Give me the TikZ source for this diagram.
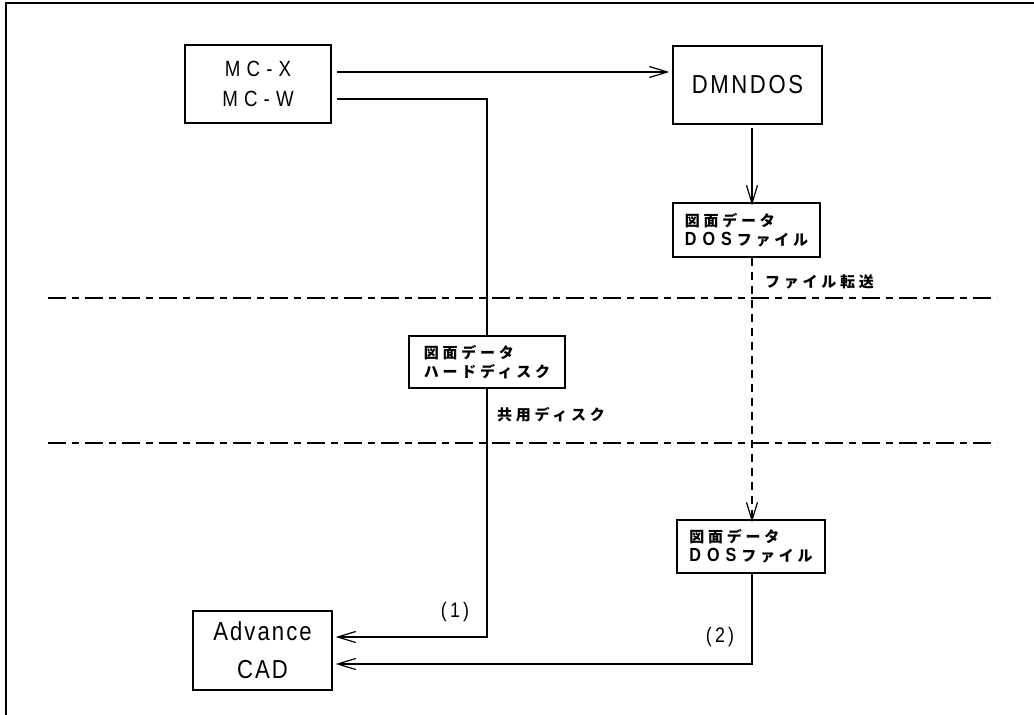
\documentclass[tikz,border=0pt]{standalone}
\usepackage{fontspec}
\setmainfont{Liberation Sans}
\newfontfamily\jpfont[LetterSpace=25]{Noto Sans CJK JP}
\newfontfamily\cadfont[FakeStretch=0.85]{Liberation Sans}
\usetikzlibrary{arrows.meta}
\newcommand\dosword{{\cadfont\fontsize{19}{19}\selectfont D\hspace{6pt}O\hspace{6pt}S}\hspace{5pt}}
\begin{document}
\begin{tikzpicture}[x=1pt,y=-1pt,
    box/.style={draw,line width=1.3pt,fill=white,inner sep=0pt},
    arr/.style={line width=1.2pt,-{Straight Barb[length=18pt,width=11pt,line width=1.2pt]}},
    wire/.style={line width=1.2pt},
    dashdot/.style={line width=1.4pt,dash pattern=on 18pt off 6pt on 7pt off 6pt},
    jptext/.style={font=\jpfont\bfseries\fontsize{15}{19}\selectfont,align=left}]
  \useasboundingbox (0,0) rectangle (1034,715);
  % frame
  \draw[line width=1.6pt] (6,715) -- (6,3) -- (1034,3);

  % boxes
  \node[box,minimum width=146pt,minimum height=78pt,align=center,
        font=\cadfont\addfontfeature{LetterSpace=28}\fontsize{22}{30}\selectfont]
        (mc) at (258,84) {MC-X\\MC-W};
  \node[box,minimum width=149pt,minimum height=78pt,
        font=\cadfont\addfontfeature{LetterSpace=10}\fontsize{26}{28}\selectfont]
        (dmndos) at (747.5,85) {DMNDOS};
  \node[box,minimum width=147pt,minimum height=54pt,jptext]
        (dosa) at (746.5,230) {図面データ\\\dosword ファイル};
  \node[box,minimum width=148pt,minimum height=53pt,jptext]
        (dosb) at (751,546.5) {図面データ\\\dosword ファイル};
  \node[box,minimum width=139pt,minimum height=79pt,align=center,
        font=\cadfont\addfontfeature{LetterSpace=8}\fontsize{26}{38}\selectfont]
        (cad) at (262.5,650.5) {Advance\\CAD};

  % separators
  \draw[dashdot] (48,298) -- (997,298);
  \draw[dashdot] (48,443) -- (997,443);

  % shared disk route
  \draw[wire] ([xshift=5pt]mc.east |- 0,99) -| (487,362);
  \node[box,minimum width=156pt,minimum height=52pt,jptext]
        (hdd) at (487,362) {図面データ\\ハードディスク};
  \draw[arr] (hdd.south) |- ([xshift=3pt]cad.east |- 0,637);

  % file transfer route
  \draw[arr] ([xshift=5pt]mc.east |- 0,72) -- ([xshift=-3pt]dmndos.west |- 0,72);
  \draw[arr] (752,128) -- ([yshift=-3pt]dosa.north -| 752,0);
  \draw[arr,dash pattern=on 8pt off 6pt] (dosa.south -| 752,0) -- ([yshift=-3pt]dosb.north -| 752,0);
  \draw[arr] (dosb.south -| 752,0) |- ([xshift=3pt]cad.east |- 0,664);

  % labels
  \node[jptext,anchor=west,inner sep=0pt] (xfer) at (765,282) {ファイル転送};
  \node[jptext,anchor=west,inner sep=0pt] (shared) at (497,415) {共用ディスク};
  \node[font=\cadfont\addfontfeature{LetterSpace=15}\fontsize{21}{24}\selectfont] (one) at (455,612) {(1)};
  \node[font=\cadfont\addfontfeature{LetterSpace=15}\fontsize{21}{24}\selectfont] (two) at (720,637) {(2)};
\end{tikzpicture}
\end{document}
